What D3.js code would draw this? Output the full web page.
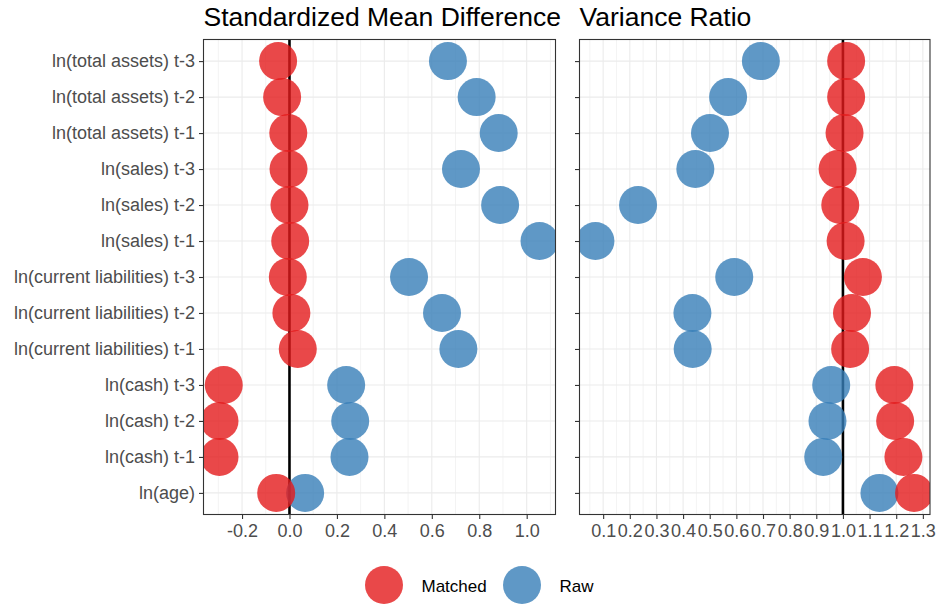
<!DOCTYPE html>
<html>
<head>
<meta charset="utf-8">
<script src="https://cdn.jsdelivr.net/npm/d3@7"></script>
<style>
  body { margin: 0; background: #fff; }
  svg { display: block; font-family: "Liberation Sans", Arial, sans-serif; }
</style>
</head>
<body>
<svg id="chart" width="938" height="605"></svg>
<script>
const categories = [
  "ln(total assets) t-3", "ln(total assets) t-2", "ln(total assets) t-1",
  "ln(sales) t-3", "ln(sales) t-2", "ln(sales) t-1",
  "ln(current liabilities) t-3", "ln(current liabilities) t-2", "ln(current liabilities) t-1",
  "ln(cash) t-3", "ln(cash) t-2", "ln(cash) t-1", "ln(age)"
];
const smdMatched = [-0.048, -0.031, -0.005, -0.004, 0.000, 0.003, -0.007, 0.008, 0.035, -0.277, -0.295, -0.295, -0.056];
const smdRaw     = [0.668, 0.789, 0.882, 0.723, 0.888, 1.054, 0.504, 0.643, 0.712, 0.239, 0.256, 0.253, 0.066];
const vrMatched  = [1.012, 1.012, 1.006, 0.980, 0.990, 1.010, 1.075, 1.034, 1.027, 1.193, 1.196, 1.227, 1.267];
const vrRaw      = [0.692, 0.569, 0.501, 0.446, 0.231, 0.071, 0.592, 0.435, 0.436, 0.956, 0.942, 0.926, 1.137];
const smdTicks = [-0.2, 0.0, 0.2, 0.4, 0.6, 0.8, 1.0];
const smdMinor = [-0.3, -0.1, 0.1, 0.3, 0.5, 0.7, 0.9, 1.1];
const vrTicks = [0.1, 0.2, 0.3, 0.4, 0.5, 0.6, 0.7, 0.8, 0.9, 1.0, 1.1, 1.2, 1.3];
const vrMinor = [0.05, 0.15, 0.25, 0.35, 0.45, 0.55, 0.65, 0.75, 0.85, 0.95, 1.05, 1.15, 1.25];
const seriesNames = ["Matched", "Raw"];
const colors = { Matched: "#E41A1C", Raw: "#377EB8" };
const titles = ["Standardized Mean Difference", "Variance Ratio"];

const svg = d3.select("#chart");
const pTop = 39.5, pBottom = 514.5;
const R = 19;
const axisFont = "18px";

function expand(vals) {
  const [a, b] = d3.extent(vals);
  const p = (b - a) * 0.05;
  return [a - p, b + p];
}
const fmt = v => d3.format(".1f")(v).replace("\u2212", "-");

const y = d3.scalePoint().domain(categories).range([pTop, pBottom]).padding(0.6);

const panels = [
  { x0: 203.5, x1: 555.5, matched: smdMatched, raw: smdRaw, ticks: smdTicks, minor: smdMinor, ref: 0, title: titles[0], labels: true },
  { x0: 579.5, x1: 930, matched: vrMatched, raw: vrRaw, ticks: vrTicks, minor: vrMinor, ref: 1, title: titles[1], labels: false }
];

panels.forEach((p, pi) => {
  const x = d3.scaleLinear().domain(expand(p.matched.concat(p.raw))).range([p.x0, p.x1]);
  const g = svg.append("g");
  const clipId = "clip" + pi;
  svg.append("clipPath").attr("id", clipId).append("rect")
    .attr("x", p.x0).attr("y", pTop).attr("width", p.x1 - p.x0).attr("height", pBottom - pTop);

  const inner = g.append("g").attr("clip-path", `url(#${clipId})`);
  inner.selectAll(".minor").data(p.minor).join("line").attr("class", "minor")
    .attr("x1", d => x(d)).attr("x2", d => x(d)).attr("y1", pTop).attr("y2", pBottom)
    .attr("stroke", "#EBEBEB").attr("stroke-width", 0.6);
  inner.selectAll(".majx").data(p.ticks).join("line").attr("class", "majx")
    .attr("x1", d => x(d)).attr("x2", d => x(d)).attr("y1", pTop).attr("y2", pBottom)
    .attr("stroke", "#EBEBEB").attr("stroke-width", 1.1);
  inner.selectAll(".majy").data(categories).join("line").attr("class", "majy")
    .attr("x1", p.x0).attr("x2", p.x1).attr("y1", d => y(d)).attr("y2", d => y(d))
    .attr("stroke", "#EBEBEB").attr("stroke-width", 1.1);
  inner.append("line")
    .attr("x1", x(p.ref)).attr("x2", x(p.ref)).attr("y1", pTop).attr("y2", pBottom)
    .attr("stroke", "#000").attr("stroke-width", 2.6);
  inner.selectAll(".raw").data(p.raw).join("circle").attr("class", "raw")
    .attr("cx", d => x(d)).attr("cy", (d, i) => y(categories[i])).attr("r", R)
    .attr("fill", colors.Raw).attr("fill-opacity", 0.8);
  inner.selectAll(".matched").data(p.matched).join("circle").attr("class", "matched")
    .attr("cx", d => x(d)).attr("cy", (d, i) => y(categories[i])).attr("r", R)
    .attr("fill", colors.Matched).attr("fill-opacity", 0.8);

  g.append("rect").attr("x", p.x0).attr("y", pTop).attr("width", p.x1 - p.x0).attr("height", pBottom - pTop)
    .attr("fill", "none").attr("stroke", "#333333").attr("stroke-width", 1.1);

  const xa = g.append("g").attr("transform", `translate(0,${pBottom})`)
    .call(d3.axisBottom(x).tickValues(p.ticks).tickFormat(fmt).tickSize(4.5).tickPadding(5.5));
  xa.select(".domain").remove();
  xa.selectAll(".tick line").attr("stroke", "#333333").attr("stroke-width", 1.1);
  xa.selectAll(".tick text").attr("fill", "#4D4D4D").style("font-size", axisFont)
    .style("font-family", "'Liberation Sans', Arial, sans-serif");

  const ya = g.append("g").attr("transform", `translate(${p.x0},0)`)
    .call(d3.axisLeft(y).tickSize(4.5).tickPadding(4).tickFormat(d => p.labels ? d : ""));
  ya.select(".domain").remove();
  ya.selectAll(".tick line").attr("stroke", "#333333").attr("stroke-width", 1.1);
  ya.selectAll(".tick text").attr("fill", "#4D4D4D").style("font-size", axisFont)
    .style("font-family", "'Liberation Sans', Arial, sans-serif");

  svg.append("text").attr("x", p.x0).attr("y", 26).text(p.title)
    .style("font-size", "26.5px").attr("fill", "#000");
});

const legendX = [384, 522];
const lg = svg.append("g");
seriesNames.forEach((s, i) => {
  lg.append("circle").attr("cx", legendX[i]).attr("cy", 585).attr("r", R)
    .attr("fill", colors[s]).attr("fill-opacity", 0.8);
  lg.append("text").attr("x", legendX[i] + 37.5).attr("y", 591.5).text(s)
    .style("font-size", "17px").attr("fill", "#000");
});
</script>
</body>
</html>
